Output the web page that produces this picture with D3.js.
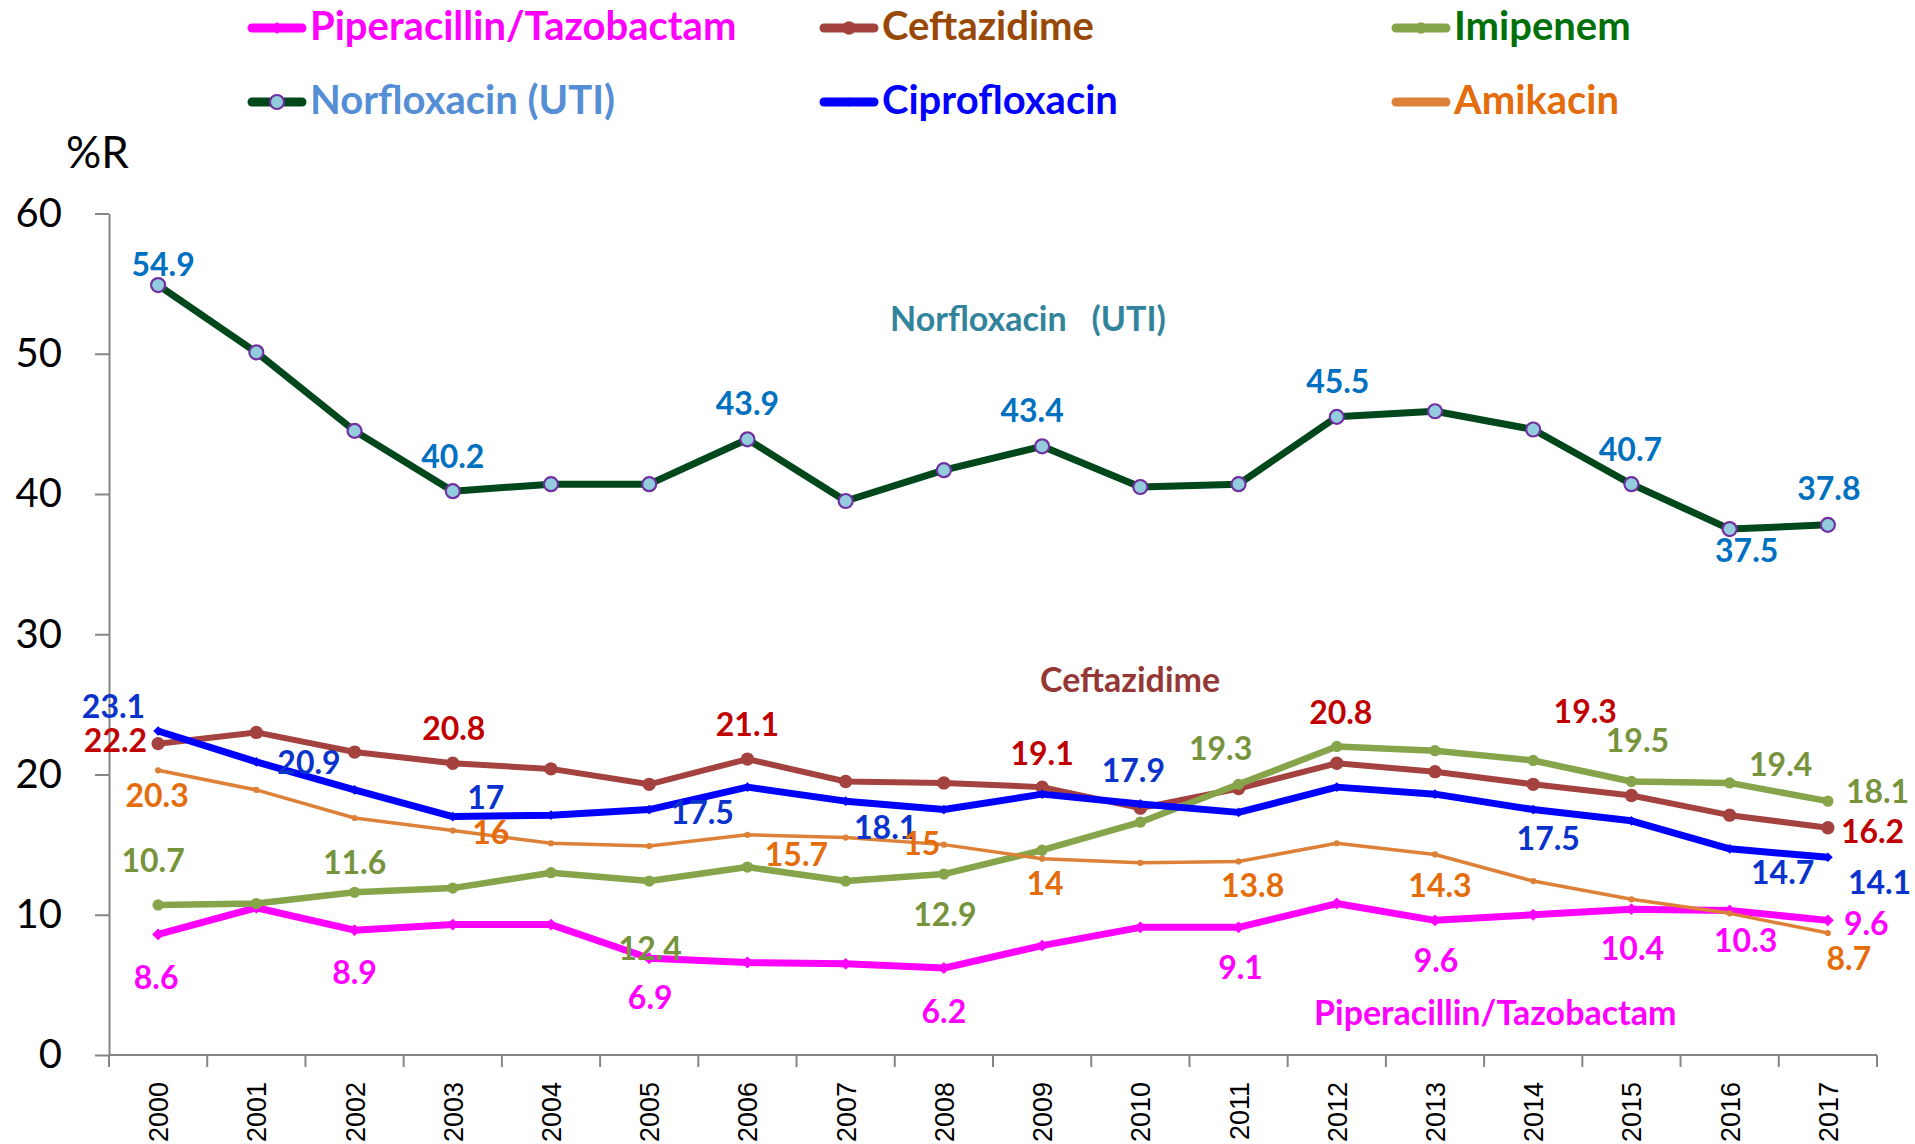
<!DOCTYPE html>
<html><head><meta charset="utf-8">
<script src="https://cdn.jsdelivr.net/npm/d3@7"></script>
<style>
html,body{margin:0;padding:0;background:#fff;}
svg{display:block;}
</style></head><body>
<script>
// ---------------- DATA ----------------
const years = ["2000","2001","2002","2003","2004","2005","2006","2007","2008","2009","2010","2011","2012","2013","2014","2015","2016","2017"];
const yTicks = [0,10,20,30,40,50,60];
const seriesNames = ["Piperacillin/Tazobactam","Ceftazidime","Imipenem","Norfloxacin (UTI)","Ciprofloxacin","Amikacin"];
const piperacillin = [8.6,10.5,8.9,9.3,9.3,6.9,6.6,6.5,6.2,7.8,9.1,9.1,10.8,9.6,10.0,10.4,10.3,9.6];
const ceftazidime  = [22.2,23.0,21.6,20.8,20.4,19.3,21.1,19.5,19.4,19.1,17.6,19.0,20.8,20.2,19.3,18.5,17.1,16.2];
const imipenem     = [10.7,10.8,11.6,11.9,13.0,12.4,13.4,12.4,12.9,14.6,16.6,19.3,22.0,21.7,21.0,19.5,19.4,18.1];
const norfloxacin  = [54.9,50.1,44.5,40.2,40.7,40.7,43.9,39.5,41.7,43.4,40.5,40.7,45.5,45.9,44.6,40.7,37.5,37.8];
const ciprofloxacin= [23.1,20.9,18.9,17,17.1,17.5,19.1,18.1,17.5,18.6,17.9,17.3,19.1,18.6,17.5,16.7,14.7,14.1];
const amikacin     = [20.3,18.9,16.9,16,15.1,14.9,15.7,15.5,15,14,13.7,13.8,15.1,14.3,12.4,11.1,10.1,8.7];
// indices of points that carry a value label
const labelledPip   = [0,2,5,8,11,13,15,16,17];
const labelledCef   = [0,3,6,9,12,14,17];
const labelledImi   = [0,2,5,8,11,15,16,17];
const labelledNor   = [0,3,6,9,12,15,16,17];
const labelledCip   = [0,1,3,5,7,10,14,16,17];
const labelledAmi   = [0,3,6,8,9,11,13,17];
const annotations = ["Norfloxacin   (UTI)","Ceftazidime","Piperacillin/Tazobactam"];
const yTitle = "%R";

// ---------------- LAYOUT / STYLE ----------------
// label offsets relative to the point: [dx, dy, anchor]
const offPip = [[-2,43,"middle"],[0,42,"middle"],[1,39,"middle"],[0,43,"middle"],[2,40,"middle"],[1,40,"middle"],[1,39,"middle"],[16,30,"middle"],[16,3,"start"]];
const offCef = [[-11,-3,"end"],[1,-35,"middle"],[0,-35,"middle"],[0,-34,"middle"],[4,-51,"middle"],[52,-73,"middle"],[13,4,"start"]];
const offImi = [[-5,-44,"middle"],[0,-30,"middle"],[1,67,"middle"],[1,40,"middle"],[-18,-36,"middle"],[6,-41,"middle"],[51,-18,"middle"],[18,-10,"start"]];
const offNor = [[5,-21,"middle"],[0,-35,"middle"],[0,-36,"middle"],[-10,-36,"middle"],[1,-35,"middle"],[-1,-35,"middle"],[17,21,"middle"],[1,-36,"middle"]];
const offCip = [[-13,-25,"end"],[21,1,"start"],[33,-19,"middle"],[53,3,"middle"],[40,26,"middle"],[-7,-33,"middle"],[15,29,"middle"],[53,24,"middle"],[20,25,"start"]];
const offAmi = [[-1,25,"middle"],[38,2,"middle"],[49,20,"middle"],[-22,-1,"middle"],[3,25,"middle"],[14,24,"middle"],[5,31,"middle"],[21,25,"middle"]];

const series = [
  {name:seriesNames[0], values:piperacillin, color:"#FF00FF", width:7, marker:"diamond", msize:90, mfill:"#FF00FF", mstroke:"none", lab:"#FF00FF", legendColor:"#FF00FF", idx:labelledPip, off:offPip},
  {name:seriesNames[1], values:ceftazidime, color:"#A4423F", width:6, marker:"circle", msize:140, mfill:"#A4423F", mstroke:"none", lab:"#C00000", legendColor:"#984807", idx:labelledCef, off:offCef},
  {name:seriesNames[2], values:imipenem, color:"#86A44A", width:6.5, marker:"circle", msize:100, mfill:"#86A44A", mstroke:"none", lab:"#77933C", legendColor:"#00700A", idx:labelledImi, off:offImi},
  {name:seriesNames[3], values:norfloxacin, color:"#00471B", width:7, marker:"nor", msize:0, mfill:"#93CDDD", mstroke:"#7030A0", lab:"#0070C0", legendColor:"#558ED5", idx:labelledNor, off:offNor},
  {name:seriesNames[4], values:ciprofloxacin, color:"#0000FF", width:7, marker:"diamond", msize:60, mfill:"#0000FF", mstroke:"none", lab:"#0A33CC", legendColor:"#0000FF", idx:labelledCip, off:offCip},
  {name:seriesNames[5], values:amikacin, color:"#DD8038", width:3.5, marker:"circle", msize:30, mfill:"#DD8038", mstroke:"none", lab:"#E46C0A", legendColor:"#E46C0A", idx:labelledAmi, off:offAmi}
];
const legendPos = [[248,28],[820,28],[1392,28],[248,102],[820,102],[1392,102]];

const W = 1915, H = 1144;
const FONT = "Lato, 'Open Sans', 'Noto Sans', sans-serif";
const svg = d3.select("body").append("svg").attr("width",W).attr("height",H);

const x = d3.scaleBand().domain(years).range([109,1877]).padding(0);
const y = d3.scaleLinear().domain([0,60]).range([1055,213.5]);
const cx = d => x(d) + x.bandwidth()/2;
const AX = "#868686";

// Y axis
const gy = svg.append("g").attr("transform","translate(109,0)")
  .call(d3.axisLeft(y).tickValues(yTicks).tickSize(14).tickPadding(33).tickSizeOuter(0));
gy.select(".domain").attr("stroke",AX).attr("stroke-width",2);
gy.selectAll(".tick line").attr("stroke",AX).attr("stroke-width",2);
gy.selectAll(".tick text").attr("font-family",FONT).attr("font-size",40).attr("fill","#000");

svg.append("text").attr("x",66).attr("y",168).attr("font-family",FONT).attr("font-size",44)
  .attr("fill","#000").text(yTitle);

// X axis
const gx = svg.append("g").attr("transform",`translate(0,${y(0)})`);
gx.append("line").attr("x1",109).attr("x2",x.range()[1]).attr("stroke",AX).attr("stroke-width",2);
const bounds = years.map(d=>x(d)).concat([x.range()[1]]);
gx.selectAll("line.t").data(bounds).join("line").attr("class","t")
  .attr("x1",d=>d).attr("x2",d=>d).attr("y1",0).attr("y2",12).attr("stroke",AX).attr("stroke-width",2);
gx.selectAll("text").data(years).join("text")
  .attr("transform",d=>`translate(${cx(d)+10},27) rotate(-90)`)
  .attr("text-anchor","end").attr("font-family","'Liberation Sans', Arial, sans-serif")
  .attr("font-size",27).attr("fill","#000").text(d=>d);

// markers
function drawMarker(g, s, px, py, scale){
  scale = scale || 1;
  if(s.marker === "nor"){
    g.append("circle").attr("cx",px).attr("cy",py).attr("r",7*scale)
      .attr("fill",s.mfill).attr("stroke",s.mstroke).attr("stroke-width",2.2);
    g.append("path").attr("d",d3.symbol(d3.symbolDiamond2, 90*scale*scale)())
      .attr("transform",`translate(${px},${py})`).attr("fill","#93CDDD");
  } else {
    const t = s.marker === "diamond" ? d3.symbolDiamond2 : d3.symbolCircle;
    g.append("path").attr("d",d3.symbol(t, s.msize*scale*scale)())
      .attr("transform",`translate(${px},${py})`).attr("fill",s.mfill);
  }
}

// lines
const line = d3.line().x((d,i)=>cx(years[i])).y(d=>y(d));
series.forEach(s=>{
  const g = svg.append("g");
  g.append("path").datum(s.values).attr("d",line).attr("fill","none")
    .attr("stroke",s.color).attr("stroke-width",s.width).attr("stroke-linejoin","round");
  s.values.forEach((v,i)=>drawMarker(g,s,cx(years[i]),y(v)));
});

// value labels
series.forEach(s=>{
  s.idx.forEach((i,k)=>{
    const o = s.off[k];
    svg.append("text").attr("x",cx(years[i])+o[0]).attr("y",y(s.values[i])+o[1])
      .attr("dy","0.36em").attr("text-anchor",o[2])
      .attr("font-family",FONT).attr("font-weight",700).attr("font-size",32)
      .attr("fill",s.lab).text(String(s.values[i]));
  });
});

// in-plot annotations
const annPos = [[890,331,"#31849B"],[1040,692,"#953735"],[1314,1025,"#FF00FF"]];
annotations.forEach((t,k)=>{
  svg.append("text").attr("x",annPos[k][0]).attr("y",annPos[k][1])
    .attr("font-family",FONT).attr("font-weight",700).attr("font-size",34)
    .attr("fill",annPos[k][2]).style("white-space","pre").text(t);
});

// legend
series.forEach((s,k)=>{
  const [lx,ly] = legendPos[k];
  const g = svg.append("g");
  g.append("line").attr("x1",lx+4).attr("x2",lx+54).attr("y1",ly).attr("y2",ly)
    .attr("stroke",s.color).attr("stroke-width",9).attr("stroke-linecap","round");
  drawMarker(g,s,lx+29,ly,1);
  g.append("text").attr("x",lx+62).attr("y",ly+12).attr("font-family",FONT)
    .attr("font-weight",700).attr("font-size",40).attr("fill",s.legendColor).text(s.name);
});
</script>
</body></html>
